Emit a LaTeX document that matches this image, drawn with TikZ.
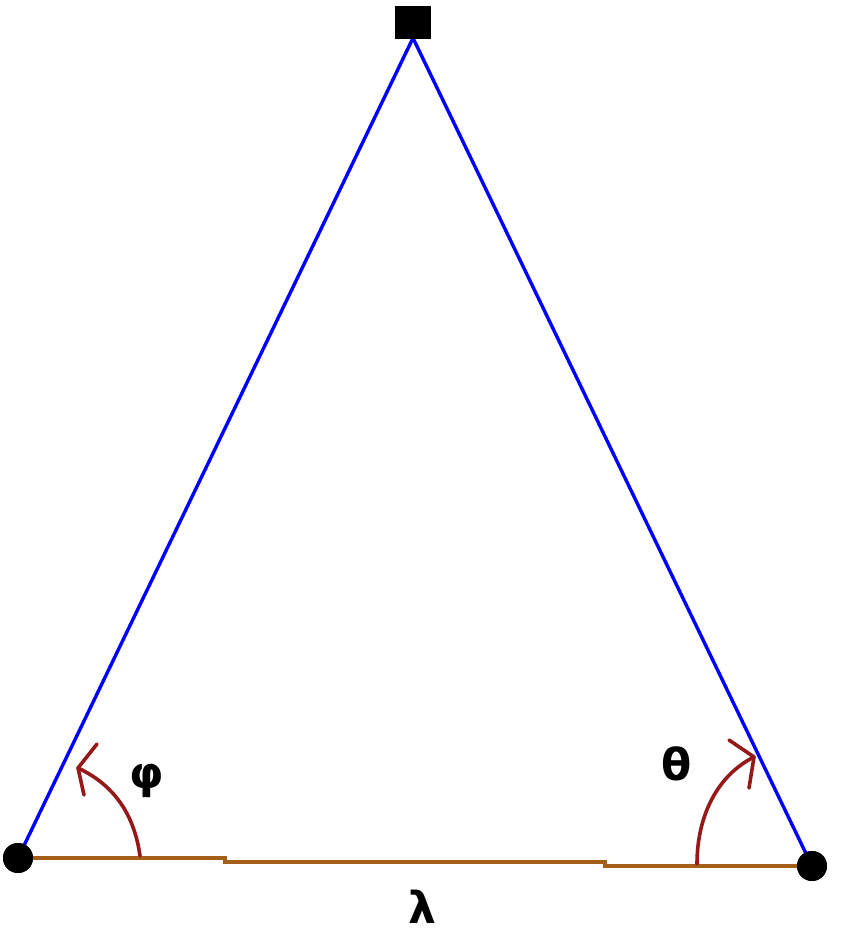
\documentclass[tikz,border=0pt]{standalone}
\usepackage{fontspec}
\newfontfamily\greekfont{DejaVu Sans}
\begin{document}
\begin{tikzpicture}[x=1pt,y=-1pt,
  ray/.style={draw={rgb,255:red,0;green,0;blue,255},line width=3.4pt},
  base/.style={draw={rgb,255:red,165;green,95;blue,25},line width=4pt},
  angarc/.style={draw={rgb,255:red,150;green,25;blue,25},line width=3.6pt,line cap=round,line join=round},
  dotnode/.style={circle,fill=black,minimum size=30pt,inner sep=0pt},
  sqnode/.style={rectangle,fill=black,minimum width=36pt,minimum height=33pt,inner sep=0pt},
  lbl/.style={font=\greekfont\bfseries\fontsize{44}{50}\selectfont,inner sep=0pt}]
\useasboundingbox (0,0) rectangle (850,940);
\fill[white] (0,0) rectangle (850,940);
\coordinate (top) at (413,38);
\node[dotnode] (L) at (18,858) {};
\node[dotnode] (R) at (812,866) {};
\draw[ray] (top) -- (L.center);
\draw[ray] (top) -- (R.center);
\node[sqnode] (S) at (413,22) {};
\coordinate (b1) at (225,858);
\coordinate (b2) at (225,862);
\coordinate (b3) at (605,862);
\coordinate (b4) at (605,866);
\draw[base] (L.center) -- (b1) -- (b2) -- (b3) -- (b4) -- (R.center);
\node[dotnode] at (L) {};
\node[dotnode] at (R) {};
% left angle arc
\coordinate (lt) at (78,768);
\draw[angarc] (140,856) .. controls (134,812) and (112,784) .. (lt);
\draw[angarc] (97,744) -- (lt) -- (84,795);
% right angle arc
\coordinate (rt) at (754,757);
\draw[angarc] (697,864) .. controls (697,815) and (718,775) .. (rt);
\draw[angarc] (729,740) -- (rt) -- (749,788);
\node[lbl] (phi) at (147,781) {φ};
\node[lbl] (theta) at (677,764) {θ};
\node[lbl] (lam) at (422,907) {λ};
\end{tikzpicture}
\end{document}
